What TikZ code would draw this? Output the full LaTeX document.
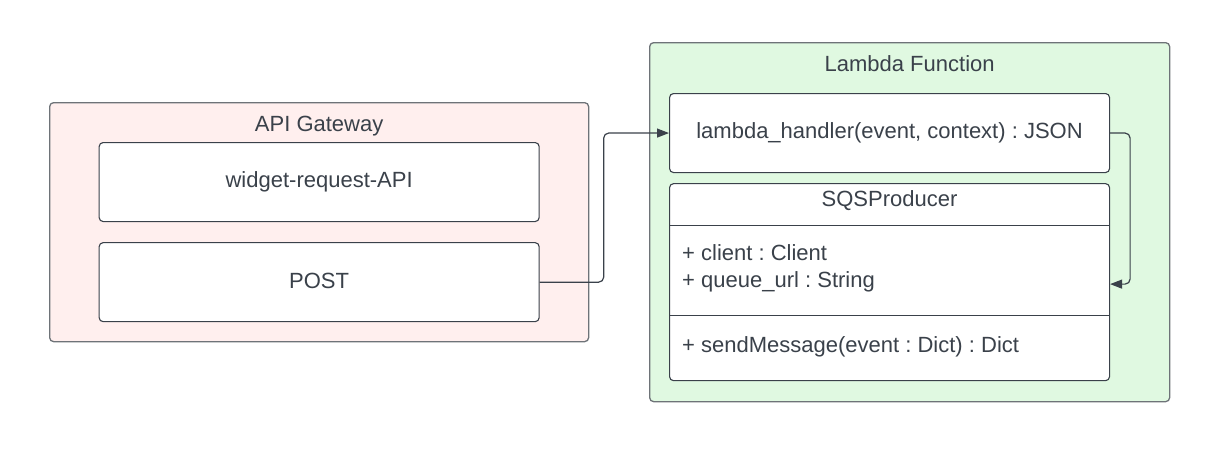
\documentclass[tikz,border=0pt]{standalone}
\usepackage{fontspec}
\setmainfont{Liberation Sans}
\usetikzlibrary{arrows.meta,positioning}
\definecolor{GateFill}{HTML}{FFEFEE}
\definecolor{LambdaFill}{HTML}{E0F9E1}
\definecolor{FrameGray}{HTML}{6E7378}
\definecolor{InkDark}{HTML}{3A414A}
\frenchspacing

\begin{document}
\begin{tikzpicture}[x=1pt,y=-1pt, every node/.style={font=\fontsize{22}{27}\selectfont, text=InkDark},
    frame/.style={rounded corners=4pt,draw=FrameGray,line width=1.3pt,anchor=north west},
    card/.style={rounded corners=4pt,draw=InkDark,line width=1.1pt,fill=white,
      minimum width=440pt,align=center},
    link/.style={draw=InkDark,line width=1.2pt,rounded corners=5pt,-{Triangle[length=12pt,width=9pt]}}]
    \useasboundingbox (0,0) rectangle (1213,453);
    % API Gateway side
    \node[frame,fill=GateFill,minimum width=539pt,minimum height=239pt] (gw) at (49,102) {};
    \node (gwtitle) at ([yshift=-24pt]gw.north) {API Gateway};
    \node[card,minimum height=79pt,below=40pt of gw.north,anchor=north] (widget) {widget-request-API};
    \node[card,minimum height=79pt,below=20pt of widget] (post) {\raisebox{2pt}{POST}};
    % Lambda side
    \node[frame,fill=LambdaFill,minimum width=520pt,minimum height=359pt] (lam) at (649,42) {};
    \node (lamtitle) at ([yshift=-22pt]lam.north) {Lambda Function};
    \node[card,minimum height=79pt,anchor=north west] (handler) at ([xshift=20pt,yshift=-51pt]lam.north west)
      {lambda\_handler(event, context) : JSON};
    \node[card,minimum height=197pt,below=10pt of handler] (sqs) {};
    \node (sqstitle) at ([yshift=-18pt]sqs.north) {SQSProducer};
    \draw[draw=InkDark,line width=1.1pt] ([yshift=-42pt]sqs.north west) -- ([yshift=-42pt]sqs.north east);
    \draw[draw=InkDark,line width=1.1pt] ([yshift=-132pt]sqs.north west) -- ([yshift=-132pt]sqs.north east);
    \node[anchor=west,align=left,inner sep=0pt] (attrs) at ([xshift=13pt,yshift=-85pt]sqs.north west)
      {+ client : Client\\+ queue\_url : String};
    \node[anchor=west,inner sep=0pt] (ops) at ([xshift=13pt,yshift=-164pt]sqs.north west)
      {+ sendMessage(event : Dict) : Dict};
    \coordinate (attrin) at ([yshift=-101pt]sqs.north east);
    % connectors
    \draw[link] (post.east) -- ++(64,0) |- (handler.west);
    \draw[link] (handler.east) -- ++(20,0) |- (attrin);
\end{tikzpicture}
\end{document}
